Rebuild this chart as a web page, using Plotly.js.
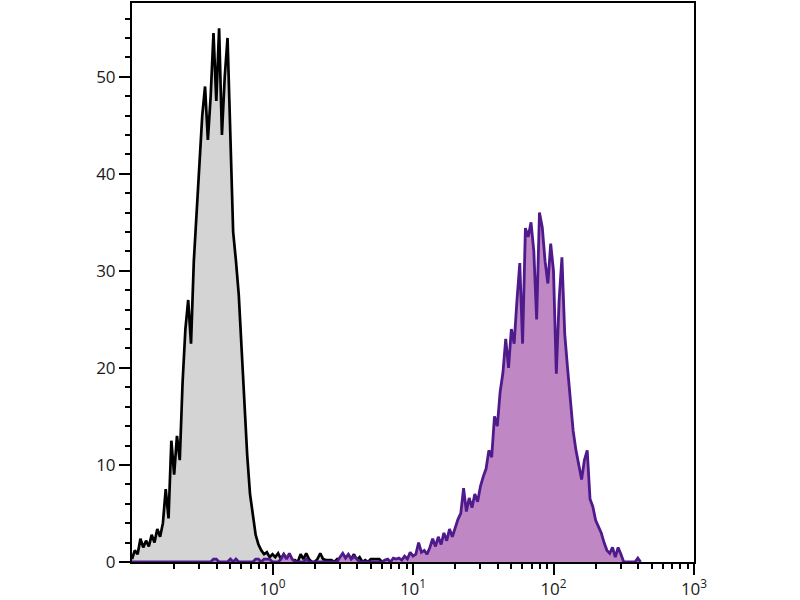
<!DOCTYPE html>
<html>
<head>
<meta charset="utf-8">
<script src="https://cdn.plot.ly/plotly-3.0.1.min.js"></script>
<style>html,body{margin:0;padding:0;background:#fff;}#chart{width:800px;height:600px;}</style>
</head>
<body>
<div id="chart"></div>
<script>
// log10 bin centres of the fluorescence channels
const logBins = [
-1.00,-0.98,-0.96,-0.94,-0.92,-0.90,-0.88,-0.86,-0.84,-0.82,
-0.80,-0.78,-0.76,-0.74,-0.72,-0.70,-0.68,-0.66,-0.64,-0.62,
-0.60,-0.58,-0.56,-0.54,-0.52,-0.50,-0.48,-0.46,-0.44,-0.42,
-0.40,-0.38,-0.36,-0.34,-0.32,-0.30,-0.28,-0.26,-0.24,-0.22,
-0.20,-0.18,-0.16,-0.14,-0.12,-0.10,-0.08,-0.06,-0.04,-0.02,
0.00,0.02,0.04,0.06,0.08,0.10,0.12,0.14,0.16,0.18,
0.20,0.22,0.24,0.26,0.28,0.30,0.32,0.34,0.36,0.38,
0.40,0.42,0.44,0.46,0.48,0.50,0.52,0.54,0.56,0.58,
0.60,0.62,0.64,0.66,0.68,0.70,0.72,0.74,0.76,0.78,
0.80,0.82,0.84,0.86,0.88,0.90,0.92,0.94,0.96,0.98,
1.00,1.02,1.04,1.06,1.08,1.10,1.12,1.14,1.16,1.18,
1.20,1.22,1.24,1.26,1.28,1.30,1.32,1.34,1.36,1.38,
1.40,1.42,1.44,1.46,1.48,1.50,1.52,1.54,1.56,1.58,
1.60,1.62,1.64,1.66,1.68,1.70,1.72,1.74,1.76,1.78,
1.80,1.82,1.84,1.86,1.88,1.90,1.92,1.94,1.96,1.98,
2.00,2.02,2.04,2.06,2.08,2.10,2.12,2.14,2.16,2.18,
2.20,2.22,2.24,2.26,2.28,2.30,2.32,2.34,2.36,2.38,
2.40,2.42,2.44,2.46,2.48,2.50,2.52,2.54,2.56,2.58,
2.60,2.62
];

// isotype control (grey) counts
const controlCounts = [
0.3,1.2,0.8,2.4,1.5,2.2,1.6,2.8,2.0,3.4,
2.6,4.0,7.5,4.5,12.5,9.0,13.0,10.5,18.5,24.0,
27.0,22.5,31.0,36.0,42.0,46.0,49.0,43.5,48.0,54.5,
47.5,55.0,44.0,50.0,54.0,44.0,34.0,31.0,27.5,22.0,
16.0,11.0,7.0,5.0,2.8,1.8,1.2,0.8,1.0,0.5,
0.8,0.5,0.9,0.3,0.8,0.4,0.7,0.0,0.2,0.0,
0.8,0.3,0.9,0.3,0.0,0.0,0.3,0.9,0.3,0.2,
0.2,0.2,0.0,0.3,0.0,0.8,0.4,0.7,0.3,0.8,
0.2,0.5,0.0,0.2,0.0,0.3,0.3,0.3,0.3,0.0,
0.0
];

// stained sample (purple) counts
const stainedCounts = [
0,0,0,0,0,0,0,0,0,0,
0,0,0,0,0,0,0,0,0,0,
0,0,0,0,0,0,0,0,0,0.3,
0.3,0,0,0,0,0.3,0,0.3,0,0,
0,0,0,0,0.3,0.3,0,0.3,0.3,0.3,
0,0,0,0.3,0.8,0.3,0.9,0.3,0,0,
0,0,0.3,0,0,0,0,0,0,0,
0,0,0,0,0.5,0.9,0.4,0.8,0.3,0.6,
0.3,0,0,0,0,0,0,0,0,0,
0.2,0.3,0.0,0.4,0.3,0.4,0.2,0.6,0.3,1.0,
0.6,0.8,2.0,1.0,1.2,0.8,1.5,2.4,1.6,2.6,
1.8,3.0,2.2,3.4,2.6,3.6,4.4,5.0,7.6,5.2,
6.6,5.6,7.0,6.2,7.8,8.8,9.6,11.5,10.8,15.0,
14.0,17.5,19.5,23.0,20.0,24.0,22.5,27.0,30.8,22.5,
34.4,33.5,35.0,32.0,25.0,36.0,34.5,31.0,28.7,32.8,
30.0,19.4,27.0,31.4,23.5,20.0,17.0,13.5,11.5,10.0,
8.5,10.5,11.5,6.5,5.7,4.3,3.6,3.0,2.0,1.2,
0.9,1.5,0.5,1.5,0.8,0.0,0.0,0.0,0.0,0.0,
0.4,0.0
];

const xMajorVals = [1, 10, 100, 1000];
const xMajorText = ['10<sup>0</sup>', '10<sup>1</sup>', '10<sup>2</sup>', '10<sup>3</sup>'];
const xMinorVals = [0.2,0.3,0.4,0.5,0.6,0.7,0.8,0.9,2,3,4,5,6,7,8,9,20,30,40,50,60,70,80,90,200,300,400,500,600,700,800,900];
const yMajorVals = [0, 10, 20, 30, 40, 50];

const toLin = v => Math.pow(10, v);

const traces = [
  {
    type: 'scatter', mode: 'lines',
    x: logBins.slice(0, controlCounts.length).map(toLin),
    y: controlCounts,
    fill: 'tozeroy', fillcolor: '#d4d4d4',
    line: {color: '#000000', width: 2.7},
    hoverinfo: 'skip'
  },
  {
    type: 'scatter', mode: 'lines',
    x: logBins.slice(0, stainedCounts.length).map(toLin),
    y: stainedCounts,
    fill: 'tozeroy', fillcolor: '#bf87c4',
    line: {color: '#4e1a8c', width: 2.8},
    hoverinfo: 'skip'
  }
];

const tickFont = {family: '"Open Sans", "DejaVu Sans", sans-serif', size: 17, color: '#1a1a1a'};

const layout = {
  width: 800, height: 600,
  margin: {l: 132, r: 106, t: 3, b: 38, pad: 0},
  paper_bgcolor: '#ffffff', plot_bgcolor: '#ffffff',
  showlegend: false,
  xaxis: {
    type: 'log', range: [-1, 3],
    tickmode: 'array', tickvals: xMajorVals, ticktext: xMajorText,
    ticks: 'outside', ticklen: 11, tickwidth: 2, tickcolor: '#000',
    minor: {tickmode: 'array', tickvals: xMinorVals, ticks: 'outside', ticklen: 5, tickwidth: 2, tickcolor: '#000', showgrid: false},
    showline: true, linecolor: '#000', linewidth: 2, mirror: true,
    showgrid: false, zeroline: false,
    tickfont: tickFont
  },
  yaxis: {
    range: [0, 57.6],
    tickmode: 'array', tickvals: yMajorVals,
    ticks: 'outside', ticklen: 11, tickwidth: 2, tickcolor: '#000',
    minor: {dtick: 2, ticks: 'outside', ticklen: 5, tickwidth: 2, tickcolor: '#000', showgrid: false},
    showline: true, linecolor: '#000', linewidth: 2, mirror: true,
    showgrid: false, zeroline: false,
    tickfont: tickFont
  }
};

Plotly.newPlot('chart', traces, layout, {displayModeBar: false, staticPlot: true});
</script>
</body>
</html>
